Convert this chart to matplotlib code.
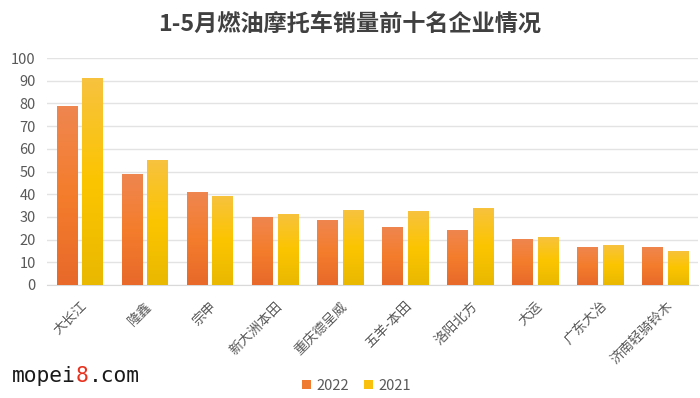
import numpy as np
import matplotlib.pyplot as plt
from matplotlib.colors import LinearSegmentedColormap

plt.rcParams['font.family'] = ['Noto Sans CJK SC', 'DejaVu Sans']

# 企业名称与销量数据(万辆)
companies = ['大长江', '隆鑫', '宗申', '新大洲本田', '重庆德呈威',
             '五羊-本田', '洛阳北方', '大运', '广东大冶', '济南轻骑铃木']
sales_2022 = [79.1, 49.0, 41.0, 30.1, 28.7, 25.6, 24.4, 20.4, 16.9, 16.9]
sales_2021 = [91.2, 54.9, 39.3, 31.5, 32.9, 32.5, 34.1, 21.3, 17.4, 15.0]
yticks = list(range(0, 101, 10))

# 渐变色
cmap_2022 = LinearSegmentedColormap.from_list('o', ['#E8692A', '#F47D2C', '#EF8650'])
cmap_2021 = LinearSegmentedColormap.from_list('y', ['#E9B800', '#FCC500', '#F7C23E'])

fig = plt.figure(figsize=(7, 3.98), dpi=100)
ax = fig.add_axes([0.067, 0.284, 0.93, 0.57])

x = np.arange(len(companies))
w = 0.31
gap = 0.085
b1 = ax.bar(x - (w + gap) / 2, sales_2022, w, color='#EE7B30', label='2022', zorder=3)
b2 = ax.bar(x + (w + gap) / 2, sales_2021, w, color='#F9C10E', label='2021', zorder=3)

grad = np.linspace(0, 1, 100).reshape(-1, 1)
for bars, cm in [(b1, cmap_2022), (b2, cmap_2021)]:
    for p in bars:
        x0, h = p.get_x(), p.get_height()
        im = ax.imshow(grad, extent=[x0, x0 + p.get_width(), 0, h], origin='lower',
                       aspect='auto', cmap=cm, zorder=3.5)
        im.set_clip_path(p)

ax.set_ylim(0, 100)
ax.set_xlim(-0.5, len(companies) - 0.5)
ax.set_yticks(yticks)
ax.yaxis.grid(True, color='#E3E3E3', linewidth=1, zorder=0)
for s in ['top', 'right', 'left']:
    ax.spines[s].set_visible(False)
ax.spines['bottom'].set_color('#D9D9D9')
ax.tick_params(axis='both', length=0, colors='#595959', labelsize=10.5)
ax.tick_params(axis='y', pad=8)
ax.tick_params(axis='x', pad=10, labelsize=9.8)
ax.set_xticks(x)
ax.set_xticklabels(companies, rotation=45, ha='right', rotation_mode='anchor')

fig.text(0.5, 0.94, '1-5月燃油摩托车销量前十名企业情况', ha='center', va='center',
         fontsize=16.7, fontweight='bold', color='#404040')

ax.legend(loc='center', bbox_to_anchor=(0.476, -0.445), ncol=2, frameon=False,
          fontsize=10.5, handlelength=0.6, handleheight=0.6, columnspacing=1.0,
          handletextpad=0.4, labelcolor='#595959')

# 水印
fs = 15.3
cw = fs * 0.602 / 72 * 100 / 700
fig.text(0.017, 0.055, 'mopei', fontsize=fs, family='DejaVu Sans Mono', color='#1A1A1A',
         va='center')
fig.text(0.017 + 5 * cw, 0.055, '8', fontsize=fs, family='DejaVu Sans Mono', color='#E8321E',
         va='center')
fig.text(0.017 + 6 * cw, 0.055, '.com', fontsize=fs, family='DejaVu Sans Mono', color='#1A1A1A',
         va='center')

plt.savefig('out.png', dpi=100)
